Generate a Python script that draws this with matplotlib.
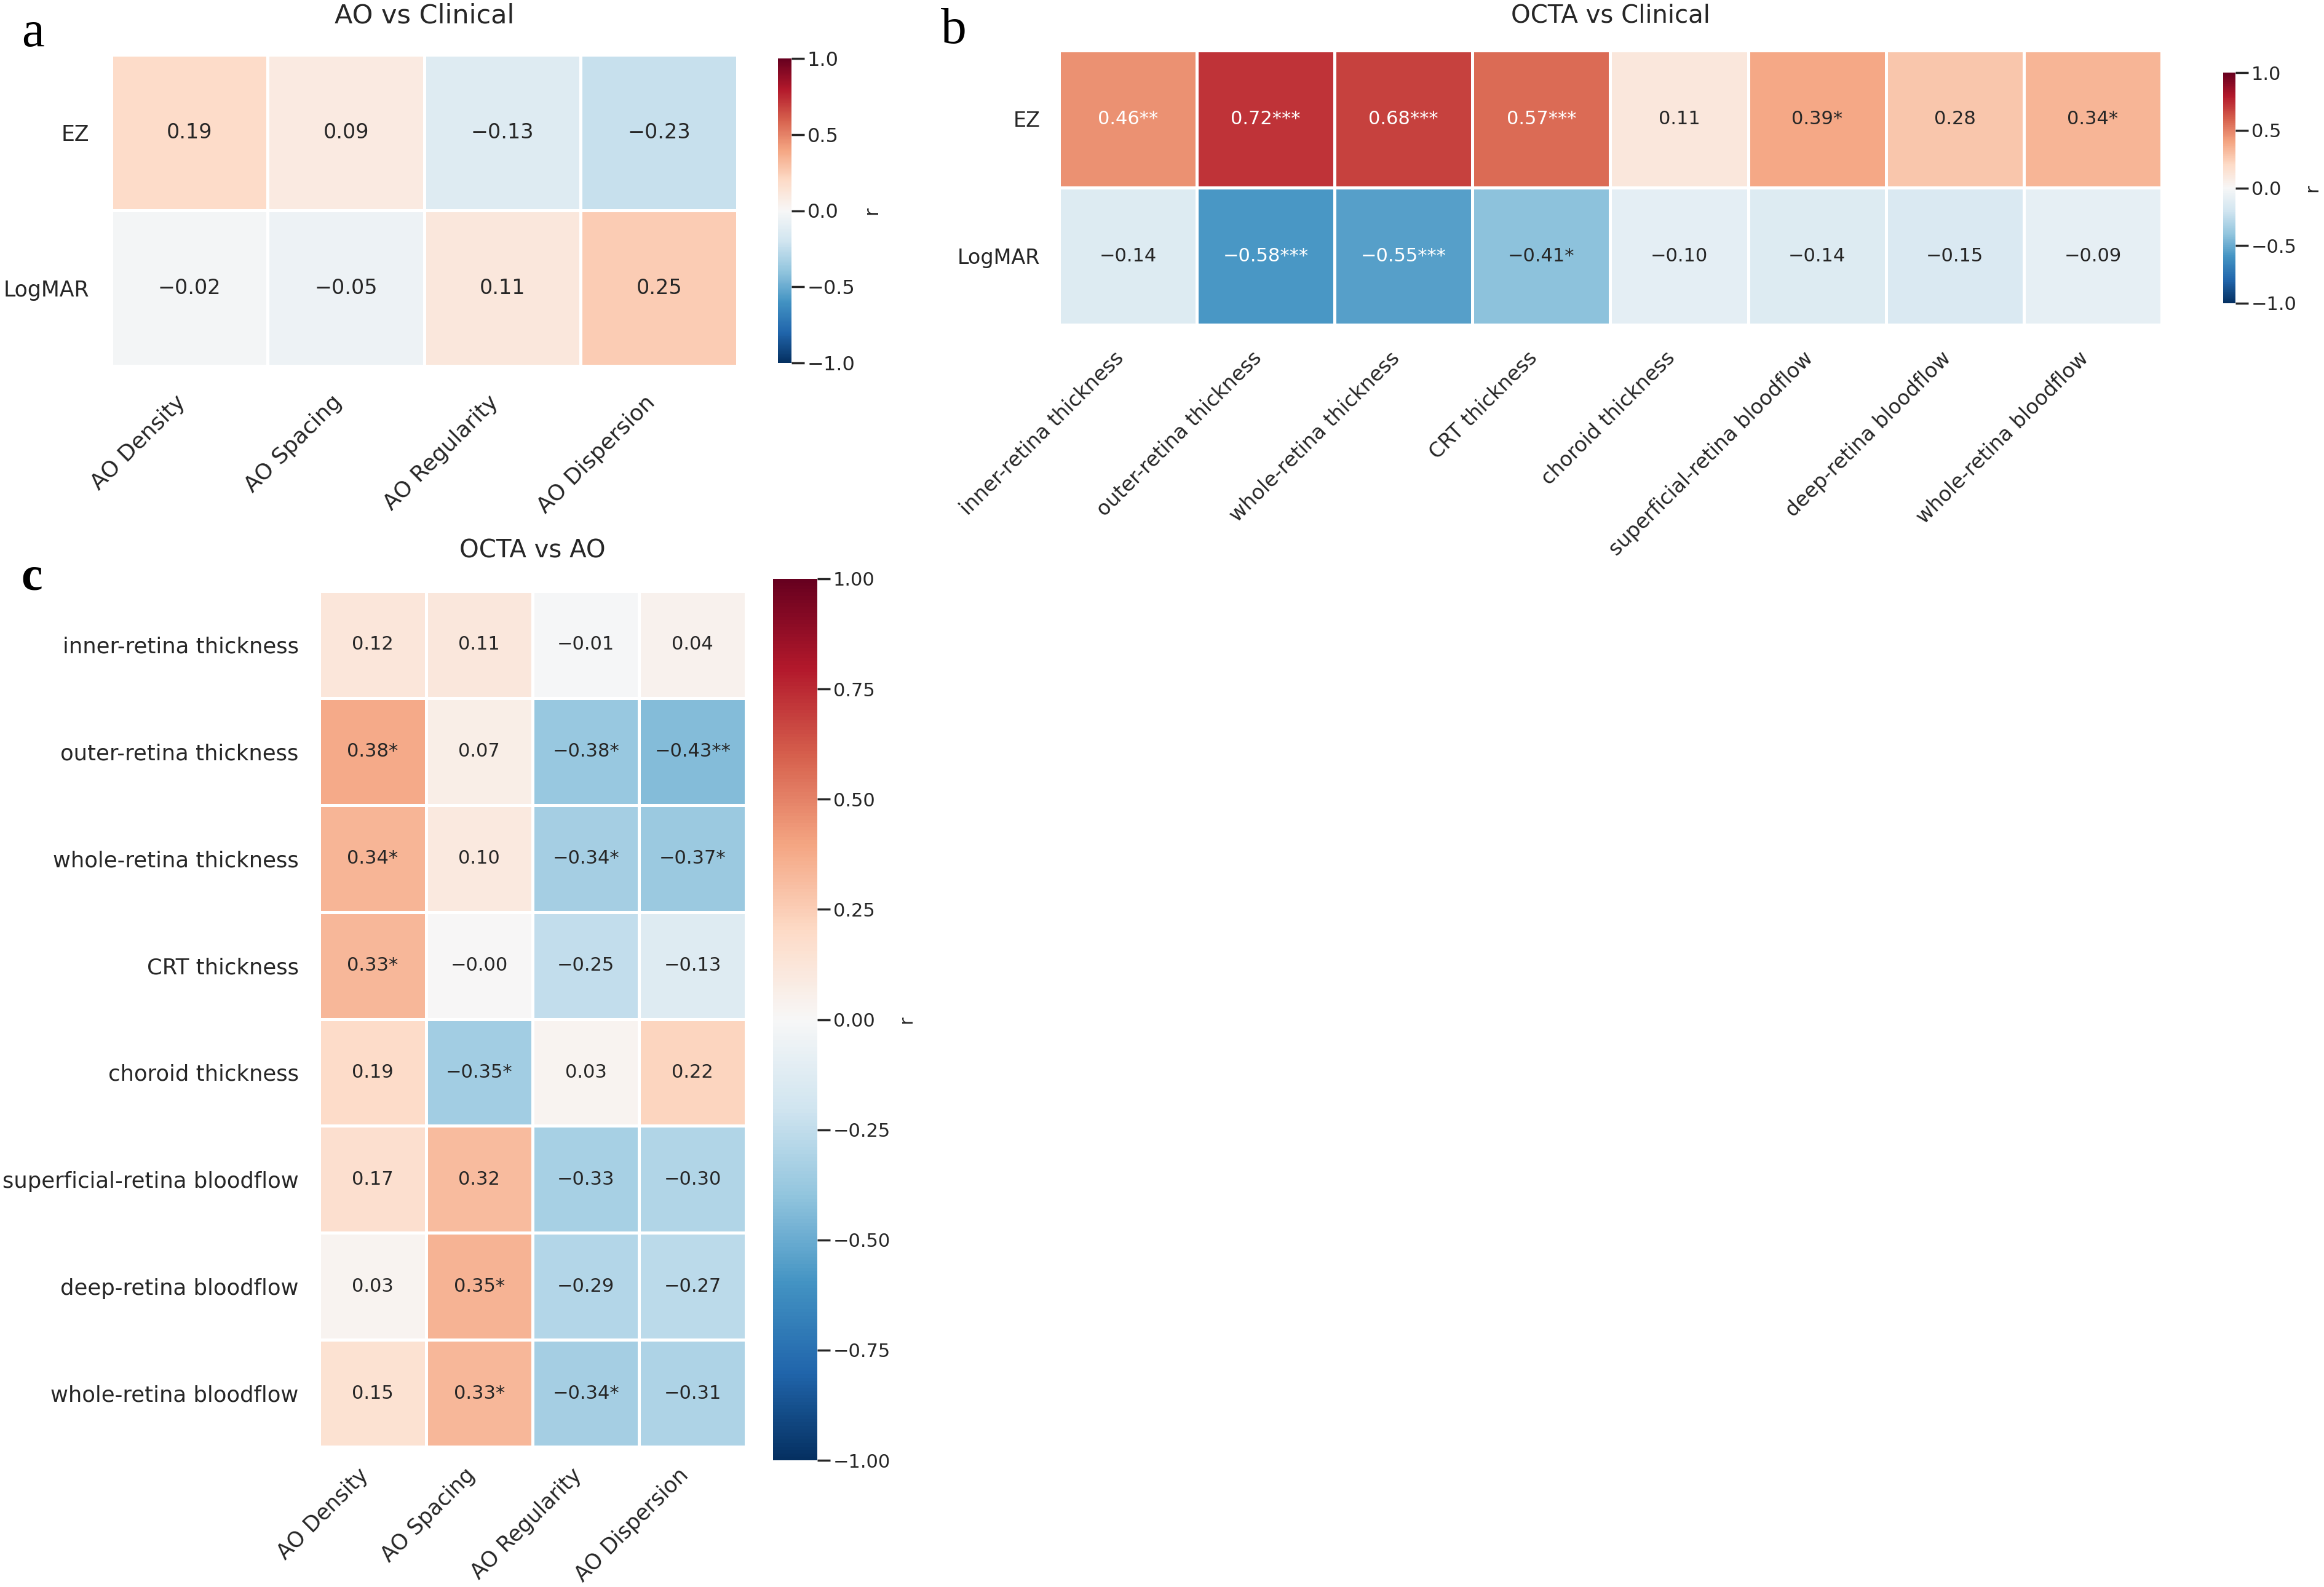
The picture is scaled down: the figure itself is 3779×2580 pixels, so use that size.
import numpy as np
import matplotlib
matplotlib.use('Agg')
import matplotlib.pyplot as plt
from matplotlib import colors as mcolors

# ---------------- data ----------------
ao_cols = ["AO Density", "AO Spacing", "AO Regularity", "AO Dispersion"]
clin_rows = ["EZ", "LogMAR"]
octa_cols = ["inner-retina thickness", "outer-retina thickness", "whole-retina thickness",
             "CRT thickness", "choroid thickness", "superficial-retina bloodflow",
             "deep-retina bloodflow", "whole-retina bloodflow"]

a_vals = [[0.19, 0.09, -0.13, -0.23],
          [-0.02, -0.05, 0.11, 0.25]]
a_stars = [["", "", "", ""],
           ["", "", "", ""]]

b_vals = [[0.46, 0.72, 0.68, 0.57, 0.11, 0.39, 0.28, 0.34],
          [-0.14, -0.58, -0.55, -0.41, -0.10, -0.14, -0.15, -0.09]]
b_stars = [["**", "***", "***", "***", "", "*", "", "*"],
           ["", "***", "***", "*", "", "", "", ""]]

c_vals = [[0.12, 0.11, -0.01, 0.04],
          [0.38, 0.07, -0.38, -0.43],
          [0.34, 0.10, -0.34, -0.37],
          [0.33, -0.0, -0.25, -0.13],
          [0.19, -0.35, 0.03, 0.22],
          [0.17, 0.32, -0.33, -0.30],
          [0.03, 0.35, -0.29, -0.27],
          [0.15, 0.33, -0.34, -0.31]]
c_stars = [["", "", "", ""],
           ["*", "", "*", "**"],
           ["*", "", "*", "*"],
           ["*", "", "", ""],
           ["", "*", "", ""],
           ["", "", "", ""],
           ["", "*", "", ""],
           ["", "*", "*", ""]]

ab_cbar_ticks = [-1.0, -0.5, 0.0, 0.5, 1.0]
c_cbar_ticks = [-1.0, -0.75, -0.5, -0.25, 0.0, 0.25, 0.5, 0.75, 1.0]

# ---------------- figure ----------------
W, H = 3780, 2580
fig = plt.figure(figsize=(W / 100, H / 100), dpi=100)
fig.patch.set_facecolor('white')
plt.rcParams['font.family'] = ['DejaVu Sans']


def rect(x0, y0, x1, y1):
    return [x0 / W, 1 - y1 / H, (x1 - x0) / W, (y1 - y0) / H]


cmap = plt.get_cmap('RdBu_r')
norm = mcolors.Normalize(-1, 1)


def rel_lum(c):
    rgb = np.array(c[:3])
    rgb = np.where(rgb <= .03928, rgb / 12.92, ((rgb + .055) / 1.055) ** 2.4)
    return rgb.dot([.2126, .7152, .0722])


def fmt(v, s):
    return f"{v:.2f}".replace('-', '\u2212') + s


def heat(ax, cax, vals, stars, rows, cols, annot_fs, tick_fs, xtick_fs, ypad, xpad,
         cb_ticks, cb_fmt, cb_fs, title, title_fs, title_pad):
    vals = np.array(vals, dtype=float)
    nr, nc = vals.shape
    mesh = ax.pcolormesh(vals, cmap=cmap, norm=norm, edgecolors='white', linewidth=2.5)
    ax.set_xlim(0, nc)
    ax.set_ylim(nr, 0)
    for i in range(nr):
        for j in range(nc):
            col = cmap(norm(vals[i, j]))
            tc = '0.15' if rel_lum(col) > .408 else 'white'
            ax.text(j + .5, i + .5, fmt(vals[i, j], stars[i][j]), ha='center', va='center',
                    color=tc, fontsize=annot_fs)
    ax.set_xticks(np.arange(nc) + .5)
    ax.set_xticklabels(cols, rotation=45, ha='right', fontsize=xtick_fs, color='0.15')
    ax.set_yticks(np.arange(nr) + .5)
    ax.set_yticklabels(rows, rotation=0, fontsize=tick_fs, color='0.15')
    ax.tick_params(axis='y', length=0, pad=ypad)
    ax.tick_params(axis='x', length=0, pad=xpad)
    for sp in ax.spines.values():
        sp.set_visible(False)
    cb = fig.colorbar(mesh, cax=cax)
    cb.outline.set_visible(False)
    cb.set_ticks(cb_ticks)
    cb.set_ticklabels([cb_fmt.format(t).replace('-', '\u2212') for t in cb_ticks])
    cb.ax.tick_params(labelsize=cb_fs, length=15, width=2.5, colors='0.15')
    cb.set_label('r', rotation=90, fontsize=cb_fs, color='0.15', labelpad=8)
    ax.set_title(title, fontsize=title_fs, color='0.15', pad=title_pad)


# panel a
ax_a = fig.add_axes(rect(181, 89, 1199, 595))
cax_a = fig.add_axes(rect(1265, 95, 1287, 590))
heat(ax_a, cax_a, a_vals, a_stars, clin_rows, ao_cols, 24, 25, 26, 26, 30,
     ab_cbar_ticks, "{:.1f}", 23, "AO vs Clinical", 31, 37)

# panel b
ax_b = fig.add_axes(rect(1722, 82, 3515, 528))
cax_b = fig.add_axes(rect(3615, 118, 3635, 493))
heat(ax_b, cax_b, b_vals, b_stars, clin_rows, octa_cols, 22, 24, 24, 22, 27,
     ab_cbar_ticks, "{:.1f}", 22, "OCTA vs Clinical", 29, 33)

# panel c
ax_c = fig.add_axes(rect(519, 961, 1213, 2352))
cax_c = fig.add_axes(rect(1257, 941, 1329, 2374))
heat(ax_c, cax_c, c_vals, c_stars, octa_cols, ao_cols, 22, 25.5, 25, 24, 21,
     c_cbar_ticks, "{:.2f}", 22, "OCTA vs AO", 29, 39)

# panel letters
fig.text(54 / W, 1 - 55 / H, 'a', fontsize=60, family='Liberation Serif', ha='center', va='center')
fig.text(1551 / W, 1 - 50 / H, 'b', fontsize=60, family='Liberation Serif', ha='center', va='center')
fig.text(52 / W, 1 - 940 / H, 'c', fontsize=56, family='Liberation Serif', weight='bold',
         ha='center', va='center')

fig.savefig('out.png', dpi=100, facecolor='white')
